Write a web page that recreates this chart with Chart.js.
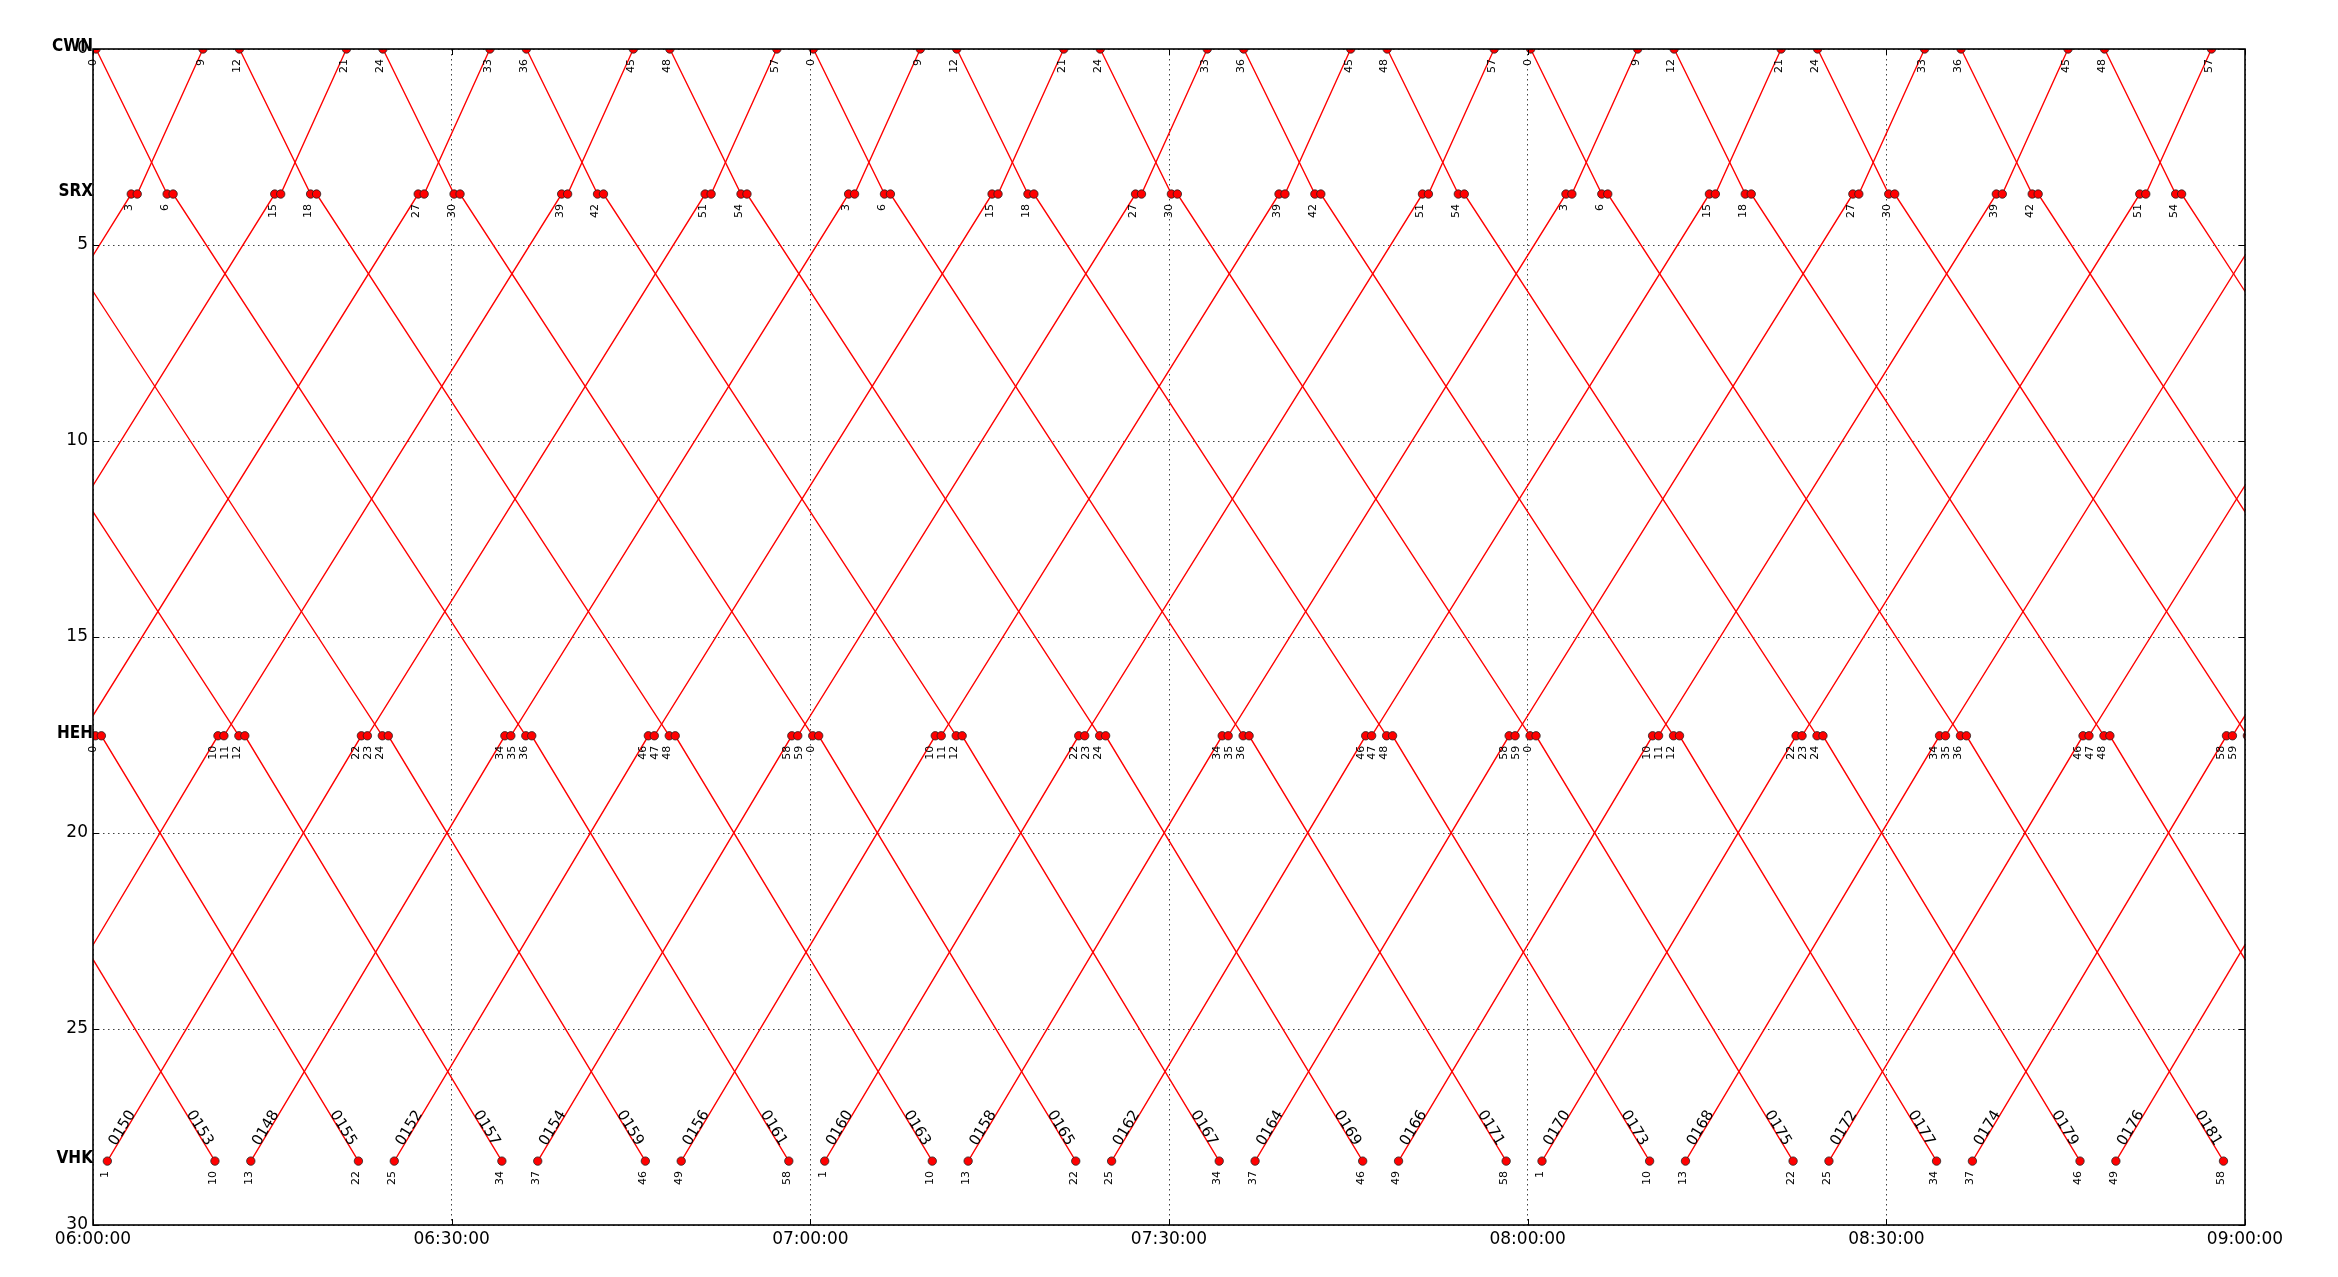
<!DOCTYPE html>
<html>
<head>
<meta charset="utf-8">
<script src="https://cdn.jsdelivr.net/npm/chart.js@4.4.0/dist/chart.umd.min.js"></script>
<style>
html,body{margin:0;padding:0;background:#fff;}
canvas{display:block;}
</style>
</head>
<body>
<canvas id="c" width="2338" height="1277"></canvas>
<script>
// ---------------- DATA ----------------
// Stations and their position along the line (y axis)
const stationNames = ['CWN', 'SRX', 'HEH', 'VHK'];
const stationDistances = [0, 3.7, 17.52, 28.37];

// Time axis, minutes after 06:00:00
const timeTickValues = [0, 30, 60, 90, 120, 150, 180];
const timeTickLabels = ['06:00:00', '06:30:00', '07:00:00', '07:30:00', '08:00:00', '08:30:00', '09:00:00'];
const distanceTickValues = [0, 5, 10, 15, 20, 25, 30];

// Down trains CWN -> VHK : CWN dep, SRX arr, SRX dep, HEH arr, HEH dep, VHK arr (minutes after 06:00)
const downStops = [0, 1, 1, 2, 2, 3];
const downTrainIds = ['0153', '0155', '0157', '0159', '0161', '0163', '0165', '0167', '0169', '0171',
                      '0173', '0175', '0177', '0179', '0181', '', '', '', ''];
const downTrainTimes = [
  [-47.75, -41.8, -41.3, -11.8, -11.3, 10.2],
  [-35.75, -29.8, -29.3, 0.2, 0.7, 22.2],
  [-23.75, -17.8, -17.3, 12.2, 12.7, 34.2],
  [-11.75, -5.8, -5.3, 24.2, 24.7, 46.2],
  [0.25, 6.2, 6.7, 36.2, 36.7, 58.2],
  [12.25, 18.2, 18.7, 48.2, 48.7, 70.2],
  [24.25, 30.2, 30.7, 60.2, 60.7, 82.2],
  [36.25, 42.2, 42.7, 72.2, 72.7, 94.2],
  [48.25, 54.2, 54.7, 84.2, 84.7, 106.2],
  [60.25, 66.2, 66.7, 96.2, 96.7, 118.2],
  [72.25, 78.2, 78.7, 108.2, 108.7, 130.2],
  [84.25, 90.2, 90.7, 120.2, 120.7, 142.2],
  [96.25, 102.2, 102.7, 132.2, 132.7, 154.2],
  [108.25, 114.2, 114.7, 144.2, 144.7, 166.2],
  [120.25, 126.2, 126.7, 156.2, 156.7, 178.2],
  [132.25, 138.2, 138.7, 168.2, 168.7, 190.2],
  [144.25, 150.2, 150.7, 180.2, 180.7, 202.2],
  [156.25, 162.2, 162.7, 192.2, 192.7, 214.2],
  [168.25, 174.2, 174.7, 204.2, 204.7, 226.2]
];

// Up trains VHK -> CWN : VHK dep, HEH arr, HEH dep, SRX arr, SRX dep, CWN arr
const upStops = [3, 2, 2, 1, 1, 0];
const upTrainIds = ['', '', '', '', '0150', '0148', '0152', '0154', '0156', '0160',
                    '0158', '0162', '0164', '0166', '0170', '0168', '0172', '0174', '0176'];
const upTrainTimes = [
  [-46.8, -25.55, -25.05, 3.2, 3.7, 9.2],
  [-34.8, -13.55, -13.05, 15.2, 15.7, 21.2],
  [-22.8, -1.55, -1.05, 27.2, 27.7, 33.2],
  [-10.8, 10.45, 10.95, 39.2, 39.7, 45.2],
  [1.2, 22.45, 22.95, 51.2, 51.7, 57.2],
  [13.2, 34.45, 34.95, 63.2, 63.7, 69.2],
  [25.2, 46.45, 46.95, 75.2, 75.7, 81.2],
  [37.2, 58.45, 58.95, 87.2, 87.7, 93.2],
  [49.2, 70.45, 70.95, 99.2, 99.7, 105.2],
  [61.2, 82.45, 82.95, 111.2, 111.7, 117.2],
  [73.2, 94.45, 94.95, 123.2, 123.7, 129.2],
  [85.2, 106.45, 106.95, 135.2, 135.7, 141.2],
  [97.2, 118.45, 118.95, 147.2, 147.7, 153.2],
  [109.2, 130.45, 130.95, 159.2, 159.7, 165.2],
  [121.2, 142.45, 142.95, 171.2, 171.7, 177.2],
  [133.2, 154.45, 154.95, 183.2, 183.7, 189.2],
  [145.2, 166.45, 166.95, 195.2, 195.7, 201.2],
  [157.2, 178.45, 178.95, 207.2, 207.7, 213.2],
  [169.2, 190.45, 190.95, 219.2, 219.7, 225.2]
];

// Minute labels written under the stop markers (minutes after 06:00)
const cwnMinuteLabels = [0, 9, 12, 21, 24, 33, 36, 45, 48, 57,
                         60, 69, 72, 81, 84, 93, 96, 105, 108, 117,
                         120, 129, 132, 141, 144, 153, 156, 165, 168, 177];
const srxMinuteLabels = [3, 6, 15, 18, 27, 30, 39, 42, 51, 54,
                         63, 66, 75, 78, 87, 90, 99, 102, 111, 114,
                         123, 126, 135, 138, 147, 150, 159, 162, 171, 174];
const hehMinuteLabels = [0, 10, 11, 12, 22, 23, 24, 34, 35, 36, 46, 47, 48, 58, 59,
                         60, 70, 71, 72, 82, 83, 84, 94, 95, 96, 106, 107, 108, 118, 119,
                         120, 130, 131, 132, 142, 143, 144, 154, 155, 156, 166, 167, 168, 178, 179];
const vhkMinuteLabels = [1, 10, 13, 22, 25, 34, 37, 46, 49, 58,
                         61, 70, 73, 82, 85, 94, 97, 106, 109, 118,
                         121, 130, 133, 142, 145, 154, 157, 166, 169, 178];
const minuteLabelsByStation = [cwnMinuteLabels, srxMinuteLabels, hehMinuteLabels, vhkMinuteLabels];

// ---------------- STYLE ----------------
const FONT = '"DejaVu Sans", "Liberation Sans", sans-serif';
const RED = '#ff0000';
const LABEL_SHIFT_MIN = 0.2;

Chart.defaults.font.family = FONT;
Chart.defaults.color = '#000';

const datasets = [];
const allPoints = [];
function addTrain(times, stops) {
  const pts = times.map((t, i) => ({ x: t, y: stationDistances[stops[i]] }));
  pts.forEach(p => allPoints.push(p));
  datasets.push({
    data: pts, showLine: true, borderColor: RED, borderWidth: 1.35,
    pointRadius: 0, pointHoverRadius: 0, tension: 0, clip: 0, order: 2
  });
}
downTrainTimes.forEach(t => addTrain(t, downStops));
upTrainTimes.forEach(t => addTrain(t, upStops));
datasets.push({
  data: allPoints, showLine: false, pointRadius: 4.2, pointHoverRadius: 4.2,
  pointBackgroundColor: RED, pointBorderColor: '#222', pointBorderWidth: 0.8,
  clip: 0, order: 1
});

const overlay = {
  id: 'overlay',
  afterDraw(chart) {
    const { ctx, chartArea: a, scales: { x, y } } = chart;
    ctx.save();
    // inward tick marks
    ctx.strokeStyle = '#000';
    ctx.lineWidth = 1;
    ctx.beginPath();
    distanceTickValues.forEach(v => {
      const py = Math.round(y.getPixelForValue(v)) + 0.5;
      ctx.moveTo(a.left, py); ctx.lineTo(a.left + 6, py);
      ctx.moveTo(a.right - 6, py); ctx.lineTo(a.right, py);
    });
    timeTickValues.forEach(v => {
      const px = Math.round(x.getPixelForValue(v)) + 0.5;
      ctx.moveTo(px, a.top); ctx.lineTo(px, a.top + 6);
      ctx.moveTo(px, a.bottom - 6); ctx.lineTo(px, a.bottom);
    });
    ctx.stroke();
    // frame
    ctx.lineWidth = 1.6;
    ctx.strokeRect(a.left, a.top, a.right - a.left, a.bottom - a.top);

    // station names
    ctx.fillStyle = '#000';
    ctx.font = 'bold 17px "DejaVu Sans Condensed", "DejaVu Sans", sans-serif';
    ctx.textAlign = 'right';
    ctx.textBaseline = 'alphabetic';
    stationNames.forEach((n, i) => {
      ctx.fillText(n, a.left, y.getPixelForValue(stationDistances[i]) + 2);
    });

    // minute labels (rotated)
    ctx.font = '11px ' + FONT;
    minuteLabelsByStation.forEach((list, si) => {
      const top = y.getPixelForValue(stationDistances[si]) + 10;
      list.forEach(m => {
        const cx = x.getPixelForValue(m + LABEL_SHIFT_MIN) - 2;
        ctx.save();
        ctx.translate(cx, top);
        ctx.rotate(-Math.PI / 2);
        ctx.textAlign = 'right';
        ctx.textBaseline = 'middle';
        ctx.fillText(String(m % 60), 0, 0);
        ctx.restore();
      });
    });

    // train ids along the line near VHK
    ctx.font = '15px ' + FONT;
    function idLabel(id, vhk, heh) {
      if (!id) return;
      const p0 = { x: x.getPixelForValue(vhk.x), y: y.getPixelForValue(vhk.y) };
      const p1 = { x: x.getPixelForValue(heh.x), y: y.getPixelForValue(heh.y) };
      const dx = p1.x - p0.x, dy = p1.y - p0.y;
      const len = Math.hypot(dx, dy);
      const ux = dx / len, uy = dy / len;
      const dist = 31 / Math.abs(uy);
      const cx = p0.x + ux * dist, cy = p0.y + uy * dist;
      let ang = Math.atan2(dy, dx);
      if (dx < 0) ang = Math.atan2(-dy, -dx);
      ctx.save();
      ctx.translate(cx, cy);
      ctx.rotate(ang);
      ctx.textAlign = 'center';
      ctx.textBaseline = 'alphabetic';
      ctx.fillText(id, 0, 0);
      ctx.restore();
    }
    downTrainTimes.forEach((t, i) => {
      idLabel(downTrainIds[i], { x: t[5], y: stationDistances[3] }, { x: t[4], y: stationDistances[2] });
    });
    upTrainTimes.forEach((t, i) => {
      idLabel(upTrainIds[i], { x: t[0], y: stationDistances[3] }, { x: t[1], y: stationDistances[2] });
    });
    ctx.restore();
  }
};

new Chart(document.getElementById('c'), {
  type: 'scatter',
  data: { datasets },
  options: {
    responsive: false,
    animation: false,
    devicePixelRatio: 1,
    events: [],
    layout: { padding: { top: 49, right: 93, bottom: 0, left: 0 } },
    plugins: { legend: { display: false }, tooltip: { enabled: false } },
    scales: {
      x: {
        type: 'linear', min: 0, max: 180,
        afterFit: s => { s.height = 52; },
        afterBuildTicks: s => { s.ticks = timeTickValues.map(v => ({ value: v })); },
        ticks: {
          callback: (v, i) => timeTickLabels[i],
          font: { size: 17 }, color: '#000', padding: 4, maxRotation: 0, autoSkip: false
        },
        grid: { color: 'rgba(0,0,0,0.75)', lineWidth: 1, drawTicks: false },
        border: { display: false, dash: [1.5, 3.5] }
      },
      y: {
        type: 'linear', reverse: true, min: 0, max: 30,
        afterFit: s => { s.width = 93; },
        afterBuildTicks: s => { s.ticks = distanceTickValues.map(v => ({ value: v })); },
        ticks: { callback: v => String(v), font: { size: 17 }, color: '#000', padding: 5, autoSkip: false },
        grid: { color: 'rgba(0,0,0,0.75)', lineWidth: 1, drawTicks: false },
        border: { display: false, dash: [1.5, 3.5] }
      }
    }
  },
  plugins: [overlay]
});
</script>
</body>
</html>
